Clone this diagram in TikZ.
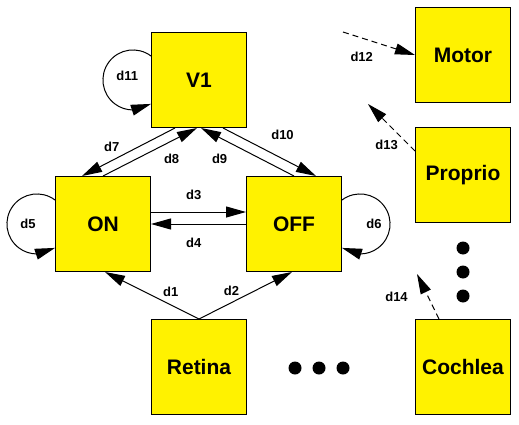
\documentclass[tikz,border=0pt]{standalone}
\usepackage{fontspec}
\setmainfont{Liberation Sans}
\usetikzlibrary{arrows.meta}
\usetikzlibrary{positioning}
\usetikzlibrary{bending}

\begin{document}
\begin{tikzpicture}[x=1pt,y=1pt,
    area/.style={draw, line width=1pt, fill=yellow, minimum size=95pt,
                 inner sep=0pt, font=\fontsize{21}{25}\selectfont\bfseries},
    lbl/.style={inner sep=1pt, font=\fontsize{13}{15}\selectfont\bfseries},
    link/.style={line width=1pt, -{Triangle[length=20pt,width=11pt]}},
    dlink/.style={link, dash pattern=on 6pt off 4pt}]

                    \useasboundingbox (0,0) rectangle (519,424);

                    \node[area] (ON)  at (103,200) {ON};
                    \node[area] (OFF) [right = 95pt of ON] {OFF};
                    \node[area] (V1)  at (199,344) {V1};
                    \node[area] (Retina) at (199,57) {Retina};

                    \node[area] (Motor) at (463,369) {Motor};
                    \node[area] (Proprio) [below = 24pt of Motor] {Proprio};
                    \node[area] (Cochlea) at (463,57) {Cochlea};

                    \coordinate (c12) at (343,392);
                    \coordinate (c13) at (368,320);
                    \coordinate (c14) at (417,150);

                    \path[link]
                    (Retina.north) edge node[lbl, pos=.3, above=7pt] {d1} ([xshift=2pt]ON.south)
                    (Retina.north) edge node[lbl, pos=.35, above=5pt] {d2} ([xshift=-2pt]OFF.south)
                    ([yshift=12pt]ON.east) edge node[lbl, pos=.45, above=11pt] {d3} ([yshift=12pt]OFF.west)
                    (OFF.west) edge node[lbl, pos=.55, below=13pt] {d4} (ON.east)
                    ([xshift=-24pt]V1.south) edge node[lbl, pos=.68, above=8pt] {d7} ([xshift=-21pt]ON.north)
                    (ON.north) edge node[lbl, pos=.73, below=12pt] {d8} ([xshift=-2pt]V1.south)
                    (OFF.north) edge node[lbl, pos=.8, below=15pt] {d9} ([xshift=2pt]V1.south)
                    ([xshift=24pt]V1.south) edge node[lbl, pos=.64, above=18pt] {d10} ([xshift=22pt]OFF.north);

                    % self loops
                    \draw[link] ([yshift=24pt]ON.west) arc[start angle=53, end angle=307, radius=30pt]
                        node[lbl, pos=.5, right=12pt] {d5};
                    \draw[link] ([yshift=24pt]OFF.east) arc[start angle=127, end angle=-127, radius=30pt]
                        node[lbl, pos=.5, left=7pt] {d6};
                    \draw[link] ([yshift=24pt]V1.west) arc[start angle=53, end angle=307, radius=30pt]
                        node[lbl, pos=.5, right=12pt, yshift=4pt] {d11};

                    % other senses
                    \path[dlink]
                    (c12) edge node[lbl, pos=.26, below=13pt] {d12} (Motor.west)
                    ([yshift=24pt]Proprio.west) edge node[lbl, pos=.12, left=10pt] {d13} (c13)
                    ([xshift=-24pt]Cochlea.north) edge node[lbl, pos=.49, left=19pt] {d14} (c14);

                    \foreach \y in {176,152,128}
                        \fill (463,\y) circle (6.5pt);
                    \foreach \x in {295,319,343}
                        \fill (\x,56) circle (6.5pt);

                \end{tikzpicture}
\end{document}
